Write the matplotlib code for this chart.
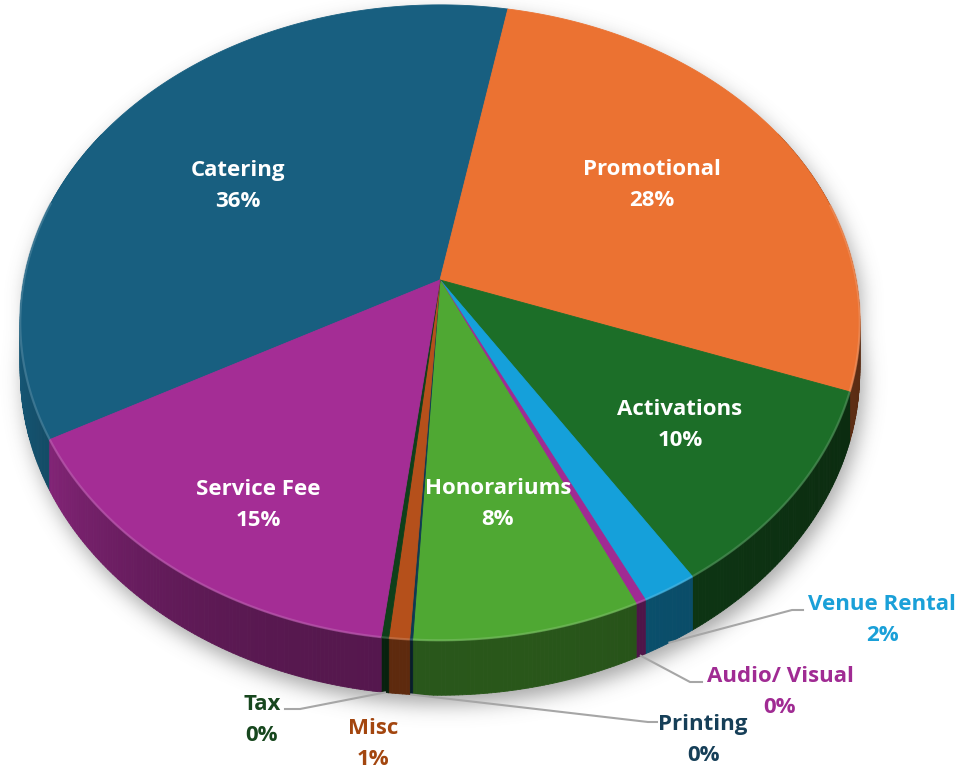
import numpy as np
import matplotlib
matplotlib.use("Agg")
import matplotlib.pyplot as plt
from matplotlib.collections import PolyCollection
from matplotlib.path import Path
from matplotlib.colors import to_rgb

plt.rcParams['font.family'] = ['Open Sans', 'DejaVu Sans']

# data (budget share)
categories = ['Catering', 'Promotional', 'Activations', 'Venue Rental', 'Audio/ Visual',
              'Honorariums', 'Printing', 'Misc', 'Tax', 'Service Fee']
values = [35.9, 27.6, 10.4, 1.9, 0.35, 7.7, 0.1, 0.7, 0.25, 15.1]
colors = ['#185F80', '#EB7232', '#1C6E28', '#15A0DA', '#A02B93',
          '#4FA833', '#0E3A52', '#B5501B', '#0F3F1A', '#A42D95']
outside = ['Venue Rental', 'Audio/ Visual', 'Printing', 'Misc', 'Tax']
label_colors = {'Venue Rental': '#1AA0D8', 'Audio/ Visual': '#A02B93',
                'Printing': '#163F58', 'Misc': '#A3460F', 'Tax': '#17471E'}
first_angle = 241.4  # degrees, clockwise from the back

# 3d look: perspective ellipse
CX, CY = 440, 280
A, B = 416, 312
K = 0.134
D = 47.6  # thickness

def proj(theta, r=1.0, depth=0.0):
    t = np.radians(theta)
    u = r * np.sin(t)
    v = -r * np.cos(t)
    w = 1 - K * v
    return CX + A * u / w, CY + (B * v + depth) / w

shares = np.array(values) / sum(values) * 100
spans = shares * 3.6
starts = first_angle + np.concatenate([[0], np.cumsum(spans)[:-1]])
ends = starts + spans

fig = plt.figure(figsize=(9.68, 7.70), dpi=100)
ax = fig.add_axes([0, 0, 1, 1])
ax.set_xlim(0, 968)
ax.set_ylim(770, 0)
ax.axis('off')

# soft shadow under the pie
back = np.linspace(270, 450, 200)
front = np.linspace(90, 270, 200)
sx = np.concatenate([proj(back)[0], proj(front, depth=D)[0]])
sy = np.concatenate([proj(back)[1], proj(front, depth=D)[1]])
sil = Path(np.column_stack([sx, sy]))
gx, gy = np.meshgrid(np.arange(968) + 0.5, np.arange(770) + 0.5)
pts = np.column_stack([gx.ravel() - 4, gy.ravel() - 9])
mask = sil.contains_points(pts).reshape(770, 968).astype(float)
kern = np.exp(-0.5 * (np.arange(-30, 31) / 10.0) ** 2)
kern /= kern.sum()
mask = np.apply_along_axis(lambda r: np.convolve(r, kern, mode='same'), 1, mask)
mask = np.apply_along_axis(lambda c: np.convolve(c, kern, mode='same'), 0, mask)
shadow = np.zeros((770, 968, 4))
shadow[..., :3] = 0.42
shadow[..., 3] = mask * 0.6
ax.imshow(shadow, extent=(0, 968, 770, 0), zorder=0, interpolation='bilinear')

def shade(theta):
    s = np.sin(np.radians(theta))
    return 0.52 + 0.4 * max(0, -s) ** 3 - 0.14 * max(0, s) ** 2

# side walls
polys, fcs = [], []
for st, en, c in zip(starts, ends, colors):
    n = max(2, int((en - st) / 0.5) + 2)
    th = np.linspace(st, en, n)
    tx, ty = proj(th)
    bx, by = proj(th, depth=D)
    base = np.array(to_rgb(c))
    for j in range(n - 1):
        m = ((th[j] + th[j + 1]) / 2) % 360
        if m < 60 or m > 300:
            continue
        polys.append([(tx[j], ty[j]), (tx[j + 1], ty[j + 1]),
                      (bx[j + 1], by[j + 1]), (bx[j], by[j])])
        fcs.append(np.clip(base * shade(m), 0, 1))
ax.add_collection(PolyCollection(polys, facecolors=fcs, edgecolors=fcs,
                                 linewidths=0.6, zorder=1))

# top faces
for st, en, c in zip(starts, ends, colors):
    n = max(3, int(en - st) + 3)
    th = np.linspace(st, en, n)
    tx, ty = proj(th)
    xs = np.concatenate([[CX], tx])
    ys = np.concatenate([[CY], ty])
    ax.fill(xs, ys, color=c, ec=c, lw=0.6, zorder=3)
    # bevel highlight on the front rim
    vis = ((th % 360) > 75) & ((th % 360) < 285)
    if vis.sum() > 1:
        hl = np.clip(np.array(to_rgb(c)) * 0.75 + 0.25, 0, 1)
        ax.plot(tx[vis], ty[vis], color=hl, lw=1.6, alpha=0.6, zorder=4,
                solid_capstyle='butt')

# labels inside the slices
inner_pos = {'Catering': (238, 186), 'Promotional': (652, 185),
             'Activations': (680, 425), 'Honorariums': (498, 504),
             'Service Fee': (258, 505)}
for name, s in zip(categories, shares):
    if name in outside:
        continue
    lx, ly = inner_pos[name]
    ax.text(lx, ly, f"{name}\n{round(s):.0f}%", color='white', fontsize=16,
            fontweight='bold', ha='center', va='center', linespacing=1.62, zorder=6)

# outside labels with leader lines
label_pos = {'Venue Rental': (882, 620), 'Audio/ Visual': (780, 692),
             'Printing': (703, 740), 'Misc': (373, 744), 'Tax': (262, 720)}
elbows = {'Venue Rental': [(792, 610), (803, 610)],
          'Audio/ Visual': [(690, 682), (702, 682)],
          'Printing': [(648, 722), (657, 722)],
          'Tax': [(300, 709), (285, 709)]}
for name, st, en, s in zip(categories, starts, ends, shares):
    if name not in outside:
        continue
    lx, ly = label_pos[name]
    ax.text(lx, ly, f"{name}\n{round(s):.0f}%", color=label_colors[name],
            fontsize=16, fontweight='bold', ha='center', va='center',
            linespacing=1.62, zorder=6)
    if name in elbows:
        px, py = proj((st + en) / 2, depth=D)
        pts_l = [(px, py)] + elbows[name]
        ax.plot([p[0] for p in pts_l], [p[1] for p in pts_l], color='#A6A6A6',
                lw=1.5, zorder=5)

fig.savefig('out.png', dpi=100)
